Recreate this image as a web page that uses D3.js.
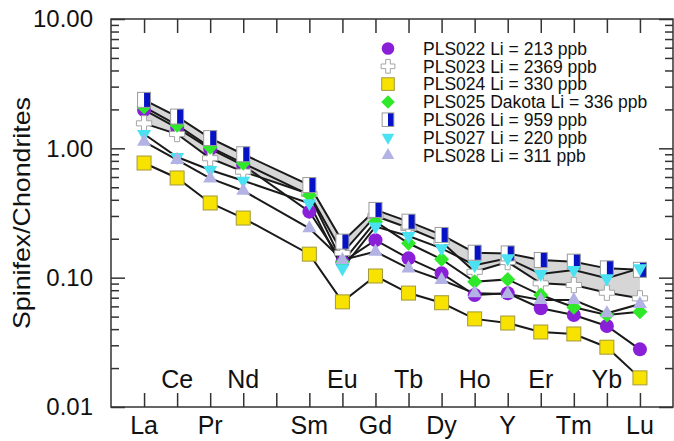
<!DOCTYPE html>
<html>
<head>
<meta charset="utf-8">
<script src="https://cdn.jsdelivr.net/npm/d3@7"></script>
<style>
  body { margin: 0; background: #fff; }
  text { font-family: "Liberation Sans", Arial, Helvetica, sans-serif; fill: #111; }
</style>
</head>
<body>
<script>
// element slots, Pm has a tick but no data / label
var elements = ["La","Ce","Pr","Nd","Pm","Sm","Eu","Gd","Tb","Dy","Ho","Y","Er","Tm","Yb","Lu"];
var labelled = ["La","Ce","Pr","Nd","Sm","Eu","Gd","Tb","Dy","Ho","Y","Er","Tm","Yb","Lu"];
var yTicks = [0.01, 0.1, 1, 10];

// chondrite normalised values (null = Pm)
var pls022 = [1.98,1.44,0.99,0.74,null,0.324,0.132,0.195,0.141,0.108,0.0734,0.0757,0.058,0.0514,0.0423,0.0279];
var pls023 = [1.56,1.29,0.838,0.66,null,0.444,0.155,0.30,0.242,0.189,0.111,0.132,0.0904,0.0877,0.0765,0.0692];
var pls024 = [0.77,0.59,0.378,0.289,null,0.152,0.065,0.103,0.076,0.064,0.048,0.0446,0.038,0.0367,0.029,0.0168];
var pls025 = [2.09,1.51,1.02,0.766,null,0.436,0.132,0.271,0.1845,0.1387,0.0931,0.097,0.0734,0.059,0.0514,0.0546];
var pls026 = [2.37,1.76,1.20,0.90,null,0.52,0.19,0.334,0.271,0.214,0.156,0.154,0.137,0.133,0.118,0.115];
var pls027 = [1.29,0.857,0.68,0.562,null,0.376,0.118,0.248,0.210,0.1687,0.125,0.141,0.1067,0.1146,0.0989,0.118];
var pls028 = [1.125,0.813,0.586,0.47,null,0.241,0.137,0.159,0.118,0.096,0.0757,0.0748,0.0672,0.0672,0.053,0.0625];

var names = ["PLS022 Li = 213 ppb","PLS023 Li = 2369 ppb","PLS024 Li = 330 ppb",
  "PLS025 Dakota Li = 336 ppb","PLS026 Li = 959 ppb","PLS027 Li = 220 ppb","PLS028 Li = 311 ppb"];

var W = 674, H = 441;
var plotL = 111, plotR = 673, plotT = 19, plotB = 407;

var svg = d3.select("body").append("svg").attr("width", W).attr("height", H);

var x = d3.scalePoint().domain(elements).range([plotL, plotR]).padding(1);
var y = d3.scaleLog().domain([0.01, 10]).range([plotB, plotT]);

function pts(vals) {
  return elements.map(function(e, i) { return {el: e, v: vals[i]}; })
    .filter(function(d) { return d.v != null; });
}

// grey band between PLS026 and PLS023
var bandData = elements.map(function(e, i) { return {el: e, hi: pls026[i], lo: pls023[i]}; })
  .filter(function(d) { return d.hi != null; });
svg.append("path")
  .datum(bandData)
  .attr("d", d3.area()
    .x(function(d) { return x(d.el); })
    .y0(function(d) { return y(d.lo); })
    .y1(function(d) { return y(d.hi); }))
  .attr("fill", "#d6d6d6");

// marker drawing
function marker(g, kind, s) {
  s = s || 1;
  if (kind === "circle") {
    g.append("circle").attr("r", 7 * s).attr("fill", "#8a1fd8");
  } else if (kind === "cross") {
    g.append("path").attr("d", d3.symbol().type(d3.symbolCross).size(130 * s * s)())
      .attr("fill", "#fff").attr("stroke", "#a4a4a4").attr("stroke-width", 1);
  } else if (kind === "square") {
    g.append("rect").attr("x", -7 * s).attr("y", -7 * s).attr("width", 14 * s).attr("height", 14 * s)
      .attr("fill", "#f7e200").attr("stroke", "#a39a3c").attr("stroke-width", 1);
  } else if (kind === "diamond") {
    g.append("path").attr("d", d3.symbol().type(d3.symbolSquare).size(112 * s * s)())
      .attr("transform", "rotate(45)").attr("fill", "#2fe82a");
  } else if (kind === "half") {
    g.append("rect").attr("x", -6.5 * s).attr("y", -7.5 * s).attr("width", 13 * s).attr("height", 15 * s)
      .attr("fill", "#fff");
    g.append("rect").attr("x", 0).attr("y", -7.5 * s).attr("width", 6.5 * s).attr("height", 15 * s)
      .attr("fill", "#0612c4");
    g.append("rect").attr("x", -6.5 * s).attr("y", -7.5 * s).attr("width", 13 * s).attr("height", 15 * s)
      .attr("fill", "none").attr("stroke", "#9a9a9a").attr("stroke-width", 1);
  } else if (kind === "down") {
    g.append("path").attr("d", d3.symbol().type(d3.symbolTriangle).size(85 * s * s)())
      .attr("transform", "rotate(180)").attr("fill", "#4ae2f2");
  } else if (kind === "up") {
    g.append("path").attr("d", d3.symbol().type(d3.symbolTriangle).size(85 * s * s)())
      .attr("fill", "#b2b2e4");
  }
}

var series = [
  {vals: pls022, kind: "circle"},
  {vals: pls023, kind: "cross"},
  {vals: pls024, kind: "square"},
  {vals: pls025, kind: "diamond"},
  {vals: pls026, kind: "half"},
  {vals: pls027, kind: "down"},
  {vals: pls028, kind: "up"}
];

var line = d3.line()
  .x(function(d) { return x(d.el); })
  .y(function(d) { return y(d.v); });

series.forEach(function(s) {
  svg.append("path").datum(pts(s.vals)).attr("d", line)
    .attr("fill", "none").attr("stroke", "#1a1a1a").attr("stroke-width", 2);
});

series.forEach(function(s) {
  svg.append("g").selectAll("g").data(pts(s.vals)).enter().append("g")
    .attr("transform", function(d) { return "translate(" + x(d.el) + "," + y(d.v) + ")"; })
    .each(function() { marker(d3.select(this), s.kind); });
});

// axes - ticks inward
var tickCol = "#333";
svg.append("g").attr("transform", "translate(0," + plotB + ")")
  .call(d3.axisBottom(x).tickSize(-14).tickFormat(""));
svg.append("g").attr("transform", "translate(0," + plotT + ")")
  .call(d3.axisTop(x).tickSize(-14).tickFormat(""));

var minor = [];
[0.01, 0.1, 1].forEach(function(d) { for (var k = 2; k <= 9; k++) minor.push(d * k); });

var yl = svg.append("g").attr("transform", "translate(" + plotL + ",0)")
  .call(d3.axisLeft(y).tickValues(yTicks).tickSize(-14).tickPadding(18).tickFormat(d3.format(".2f")));
svg.append("g").attr("transform", "translate(" + plotL + ",0)")
  .call(d3.axisLeft(y).tickValues(minor).tickSize(-8).tickFormat(""));
svg.append("g").attr("transform", "translate(" + plotR + ",0)")
  .call(d3.axisRight(y).tickValues(yTicks).tickSize(-14).tickFormat(""));
svg.append("g").attr("transform", "translate(" + plotR + ",0)")
  .call(d3.axisRight(y).tickValues(minor).tickSize(-8).tickFormat(""));

svg.selectAll(".domain").remove();
svg.selectAll(".tick line").attr("stroke", tickCol).attr("stroke-width", 1.5);
yl.selectAll("text").attr("font-size", 24).attr("font-family", "Liberation Sans, Arial, sans-serif")
  .attr("fill", "#111");

svg.append("rect").attr("x", plotL).attr("y", plotT).attr("width", plotR - plotL).attr("height", plotB - plotT)
  .attr("fill", "none").attr("stroke", tickCol).attr("stroke-width", 1.5);

// element labels: alternate bottom row / inner row
svg.append("g").selectAll("text").data(labelled).enter().append("text")
  .attr("x", function(d) { return x(d); })
  .attr("y", function(d, i) { return i % 2 === 0 ? 434 : 388; })
  .attr("text-anchor", "middle")
  .attr("font-size", 25)
  .text(function(d) { return d; });

// y title
svg.append("text")
  .attr("transform", "translate(30,213) rotate(-90)")
  .attr("text-anchor", "middle")
  .attr("font-size", 24)
  .attr("textLength", 232)
  .attr("lengthAdjust", "spacingAndGlyphs")
  .text("Spinifex/Chondrites");

// legend
var leg = svg.append("g");
series.forEach(function(s, i) {
  var ry = 48.5 + i * 17.8;
  var g = leg.append("g").attr("transform", "translate(388," + ry + ")");
  marker(g, s.kind, 0.9);
  leg.append("text").attr("x", 423).attr("y", ry).attr("dy", "0.36em")
    .attr("font-size", 17.5).text(names[i]);
});
</script>
</body>
</html>
